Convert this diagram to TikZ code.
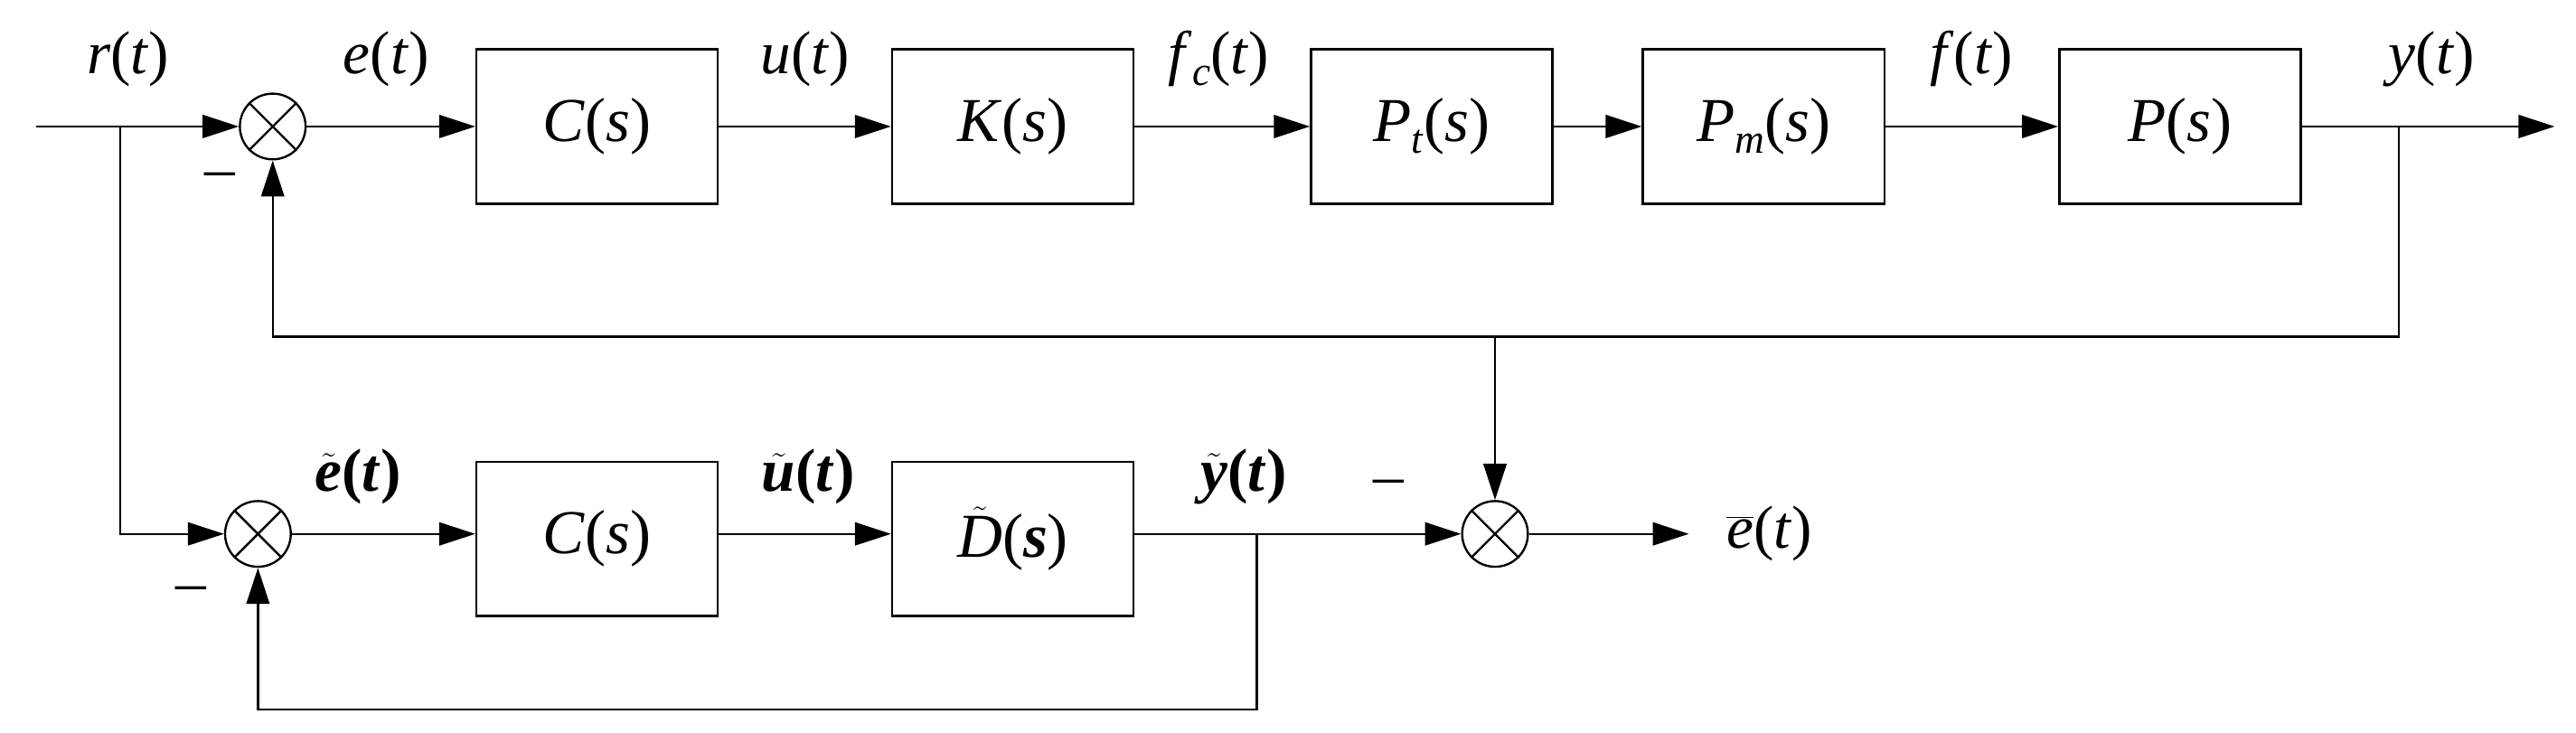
\documentclass[tikz,border=0pt]{standalone}
\usepackage{fontspec}
\setmainfont{Liberation Serif}
\usetikzlibrary{arrows.meta}
\newcommand{\iv}[1]{\textit{#1}}
\begin{document}
\begin{tikzpicture}[x=1pt,y=-1pt,line width=1.3pt,
  blk/.style={draw,minimum width=147pt,minimum height=94pt,inner sep=0pt,font=\fontsize{38}{44}\selectfont},
  sum/.style={draw,circle,minimum size=40pt,inner sep=0pt},
  arr/.style={-{Triangle[length=22pt,width=14pt]}},
  lbl/.style={font=\fontsize{37}{42}\selectfont},
  blbl/.style={font=\fontsize{37}{42}\selectfont\bfseries}]
\useasboundingbox (0,0) rectangle (1568,446);
% top row
\coordinate (in) at (22,77);
\node[sum] (s1) at (166,77) {};
\node[blk] (C1) at (363.5,77) {\iv{C}(\iv{s})};
\node[blk] (K) at (616.5,77) {\iv{K}(\iv{s})};
\node[blk] (Pt) at (871.5,77) {\iv{P}\raisebox{-7pt}{\fontsize{25}{28}\selectfont\iv{t}}(\iv{s})};
\node[blk] (Pm) at (1073.5,77) {\iv{P}\raisebox{-7pt}{\fontsize{25}{28}\selectfont\iv{m}}(\iv{s})};
\node[blk] (P) at (1327,77) {\iv{P}(\iv{s})};
\coordinate (out) at (1555,77);
\coordinate (yb) at (1460,77);
\coordinate (yd) at (1460,205);
\coordinate (fl) at (166,205);
\coordinate (mid) at (910,205);
\coordinate (rb) at (73,77);
\coordinate (rd) at (73,325);
% bottom row
\node[sum] (s2) at (157,325) {};
\node[blk] (C2) at (363.5,328) {\iv{C}(\iv{s})};
\node[blk] (D) at (616.5,328) {$\tilde{\mbox{\iv{D}}}$(\textbf{\iv{s}})};
\node[sum] (s3) at (910,325) {};
\coordinate (eo) at (1028,325);
\coordinate (yt) at (765,325);
\coordinate (ytd) at (765,432);
\coordinate (bl) at (157,432);
\foreach \s in {s1,s2,s3}{\draw (\s.45)--(\s.225) (\s.135)--(\s.315);}
% connectors
\draw[arr] (in) -- (s1);
\draw[arr] (s1) -- (C1);
\draw[arr] (C1) -- (K);
\draw[arr] (K) -- (Pt);
\draw[arr] (Pt) -- (Pm);
\draw[arr] (Pm) -- (P);
\draw[arr] (P) -- (out);
\draw[arr] (yb) -- (yd) -- (fl) -- (s1);
\draw[arr] (mid) -- (s3);
\draw[arr] (rb) -- (rd) -- (s2);
\draw[arr] (s2) -- (s2-|C2.west);
\draw[arr] (C2.east|-s2) -- (D.west|-s2);
\draw[arr] (D.east|-s2) -- (s3);
\draw[arr] (s3) -- (eo);
\draw[arr] (yt) -- (ytd) -- (bl) -- (s2);
% labels
\node[lbl] at (78,36) {\iv{r}(\iv{t})};
\node[lbl] at (235,36) {\iv{e}(\iv{t})};
\node[lbl] at (490,36) {\iv{u}(\iv{t})};
\node[lbl] at (742,36) {\iv{f}\raisebox{-7pt}{\fontsize{25}{28}\selectfont\iv{c}}(\iv{t})};
\node[lbl] at (1200,36) {\iv{f}(\iv{t})};
\node[lbl] at (1480,36) {\iv{y}(\iv{t})};
\node[blbl] at (218,290) {$\tilde{\mbox{\bfseries\iv{e}}}$(\iv{t})};
\node[blbl] at (492,290) {$\tilde{\mbox{\bfseries\iv{u}}}$(\iv{t})};
\node[blbl] at (757,290) {$\tilde{\mbox{\bfseries\iv{y}}}$(\iv{t})};
\node[lbl] at (1077,325) {$\overline{\mbox{\iv{e}}}$(\iv{t})};
\node[lbl] at (134,110) {--};
\node[lbl] at (845,297) {--};
\node[lbl] at (116,362) {--};
\end{tikzpicture}
\end{document}
